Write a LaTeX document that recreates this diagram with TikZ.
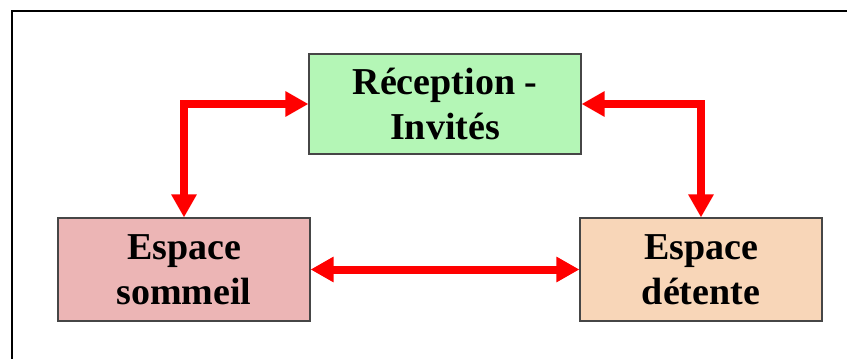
\documentclass[tikz,border=0pt]{standalone}
\usepackage{fontspec}
\setmainfont{Liberation Serif}
\usetikzlibrary{arrows.meta}
\definecolor{boxgreen}{RGB}{180,246,182}
\definecolor{boxpink}{RGB}{236,181,181}
\definecolor{boxpeach}{RGB}{248,214,184}
\definecolor{boxedge}{RGB}{70,70,70}
\definecolor{arrred}{RGB}{255,0,0}
\tikzset{
  room/.style={draw=boxedge, line width=1.1pt, inner sep=0pt, align=center,
    font=\fontsize{38}{45}\selectfont\bfseries},
  link/.style={draw=arrred, line width=8pt, line join=miter,
    {Triangle[length=23pt,width=24pt]}-{Triangle[length=23pt,width=24pt]}}
}
\begin{document}
\begin{tikzpicture}[x=1pt,y=-1pt]
\useasboundingbox (0,0) rectangle (847,359);
\clip (0,0) rectangle (847,359);
\fill[white] (0,0) rectangle (847,359);
\draw[line width=2pt] (12,11) rectangle (900,420);
\node[room, fill=boxgreen, minimum width=272pt, minimum height=100pt] (T) at (445,104) {Réception -\\Invités};
\node[room, fill=boxpink, minimum width=252pt, minimum height=103pt] (L) at (184,269.5) {Espace\\sommeil};
\node[room, fill=boxpeach, minimum width=242pt, minimum height=103pt] (R) at (701,269.5) {Espace\\détente};
\draw[link] (T.west) -| (L.north);
\draw[link] (T.east) -| (R.north);
\draw[link] (L.east) -- (R.west);
\end{tikzpicture}
\end{document}
